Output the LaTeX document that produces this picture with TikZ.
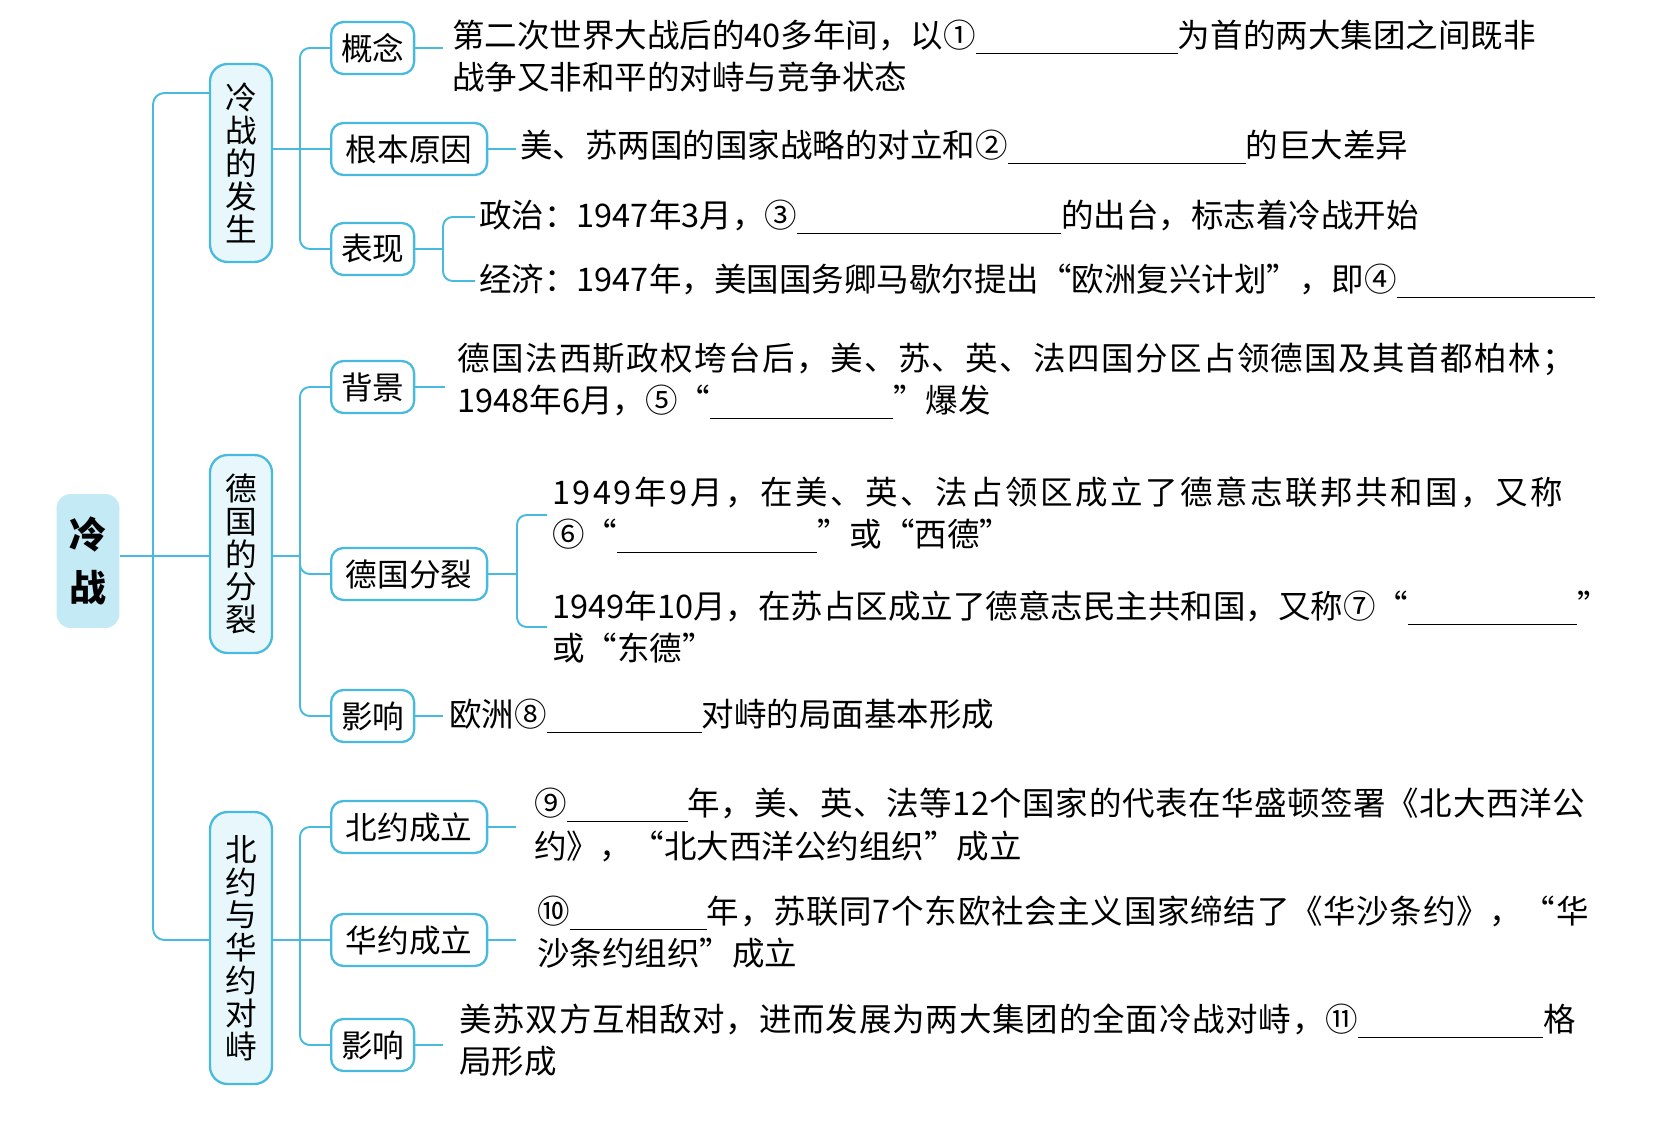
\documentclass[tikz,border=0pt]{standalone}
\usepackage{fontspec}
\setmainfont{Noto Sans CJK SC}
\usetikzlibrary{positioning}
\definecolor{lineblue}{RGB}{72,186,222}
\definecolor{rootfill}{RGB}{196,234,246}
\definecolor{boxfill}{RGB}{232,247,252}
\newlength\upx
\setlength\upx{0.02cm}
\newcommand\blank[1]{\rule[-0.2em]{#1\upx}{0.6pt}}
\newcommand\spread[2]{{\addfontfeature{LetterSpace=#1}#2}}
\newcommand\bodyfont{\fontsize{18.5pt}{24.2pt}\selectfont}
\newcommand\tagfont{\fontsize{18pt}{18.7pt}\selectfont}
\tikzset{
  rootbox/.style = {
    rectangle, rounded corners=8pt, fill=rootfill,
    minimum width=1.26cm, minimum height=2.68cm, align=center,
    inner sep=0pt, font=\fontsize{21pt}{30pt}\selectfont\bfseries
  },
  grpbox/.style = {
    rectangle, rounded corners=10pt,
    draw=lineblue, line width=1.3pt, fill=boxfill,
    minimum width=1.24cm, align=center, inner sep=0pt, font=\tagfont
  },
  tagbox/.style = {
    rectangle, rounded corners=7pt,
    draw=lineblue, line width=1.3pt, fill=white, anchor=west,
    minimum width=1.66cm, minimum height=1.04cm, inner sep=0pt, font=\tagfont
  },
  wtag/.style = {tagbox, minimum width=3.12cm},
  note/.style = {anchor=west, align=left, inner sep=0pt, font=\bodyfont},
  link/.style = {draw=lineblue, line width=1.1pt, rounded corners=5.5pt}
}

\begin{document}
\begin{tikzpicture}[x=0.02cm, y=-0.02cm]

\fill[white] (0,0) rectangle (1675,1121);
\useasboundingbox (0,0) rectangle (1675,1121);

%% root
\node[rootbox] (root) at (88,561) {冷\\战};

%% level 1 (vertical labels)
\node[grpbox, minimum height=3.96cm] (ga) at (241,163) {冷\\战\\的\\发\\生};
\node[grpbox, minimum height=3.96cm] (gb) at (241,554) {德\\国\\的\\分\\裂};
\node[grpbox, minimum height=5.44cm] (gc) at (241,948) {北\\约\\与\\华\\约\\对\\峙};

%% level 2
\node[tagbox] (a1) at (330,48)   {概念};
\node[wtag]   (a2) at (330,149)  {根本原因};
\node[tagbox] (a3) at (330,249)  {表现};
\node[tagbox] (b1) at (330,387)  {背景};
\node[wtag]   (b2) at (330,574)  {德国分裂};
\node[tagbox] (b3) at (330,716)  {影响};
\node[wtag]   (c1) at (330,827)  {北约成立};
\node[wtag]   (c2) at (330,940)  {华约成立};
\node[tagbox] (c3) at (330,1045) {影响};

%% texts
\node[note] (ta1) at (452,56)
      {第二次世界大战后的40多年间，以①\blank{202}为首的两大集团之间既非\\
       战争又非和平的对峙与竞争状态};
\node[note] (ta2) at (520,147)
      {美、苏两国的国家战略的对立和②\blank{238}的巨大差异};
\node[note] (ta3) at (479,217)
      {政治：1947年3月，③\blank{264}的出台，标志着冷战开始};
\node[note] (ta4) at (479,281)
      {经济：1947年，美国国务卿马歇尔提出“欧洲复兴计划”，即④\blank{198}};
\node[note] (tb1) at (457,381)
      {\spread{4.3}{德国法西斯政权垮台后，美、苏、英、法四国分区占领德国及其首都柏林；}\\
       1948年6月，⑤“\blank{183}”爆发};
\node[note] (tb2) at (552,515)
      {\spread{7.7}{1949年9月，在美、英、法占领区成立了德意志联邦共和国，又称}\\
       ⑥“\blank{200}”或“西德”};
\node[note] (tb3) at (552,627)
      {1949年10月，在苏占区成立了德意志民主共和国，又称⑦“\blank{169}”\\
       或“东德”};
\node[note] (tb4) at (449,716)
      {欧洲⑧\blank{155}对峙的局面基本形成};
\node[note] (tc1) at (534,825)
      {\spread{1.8}{⑨\blank{121}年，美、英、法等12个国家的代表在华盛顿签署《北大西洋公}\\
       约》，“北大西洋公约组织”成立};
\node[note] (tc2) at (537,932)
      {\spread{2.2}{⑩\blank{137}年，苏联同7个东欧社会主义国家缔结了《华沙条约》，“华}\\
       沙条约组织”成立};
\node[note] (tc3) at (459,1040)
      {\spread{2.5}{美苏双方互相敌对，进而发展为两大集团的全面冷战对峙，⑪\blank{185}格}\\
       局形成};

%% trunk
\coordinate (ya) at (0,93);
\coordinate (yc) at (0,940);
\coordinate (tr) at (153,556);
\draw[link] (root.east |- tr) -- (gb.west |- tr);
\draw[link, rounded corners=6.5pt] (ga.west |- ya) -| (tr) |- (gc.west |- yc);

%% branches
\coordinate (ka) at (300,149);
\coordinate (kb) at (300,556);
\coordinate (kc) at (300,940);
\draw[link] (ga.east |- ka) -- (ka) -- (a2.west);
\draw[link] (a1.west) -| (ka) |- (a3.west);
\draw[link] (gb.east |- kb) -- (kb);
\draw[link] (b1.west) -| (kb) |- (b3.west);
\draw[link] (kb) |- (b2.west);
\draw[link] (gc.east |- kc) -- (kc) -- (c2.west);
\draw[link] (c1.west) -| (kc) |- (c3.west);

%% leaves
\foreach \x/\y/\s in {a1/ta1/9, a2/ta2/4, b1/tb1/12, b3/tb4/6, c1/tc1/18, c2/tc2/21, c3/tc3/16}
  \draw[link, shorten >=\s\upx] (\x.east) -- (\x.east -| \y.west);

\coordinate (ja) at (443,249);
\coordinate (jb) at (517,574);
\draw[link] (a3.east) -- (ja);
\draw[link, shorten <=4\upx, shorten >=4\upx] (ta3.west) -| (ja) |- (ta4.west);
\draw[link] (b2.east) -- (jb);
\draw[link, shorten <=5\upx, shorten >=5\upx] (tb2.west) -| (jb) |- (tb3.west);

\end{tikzpicture}
\end{document}
